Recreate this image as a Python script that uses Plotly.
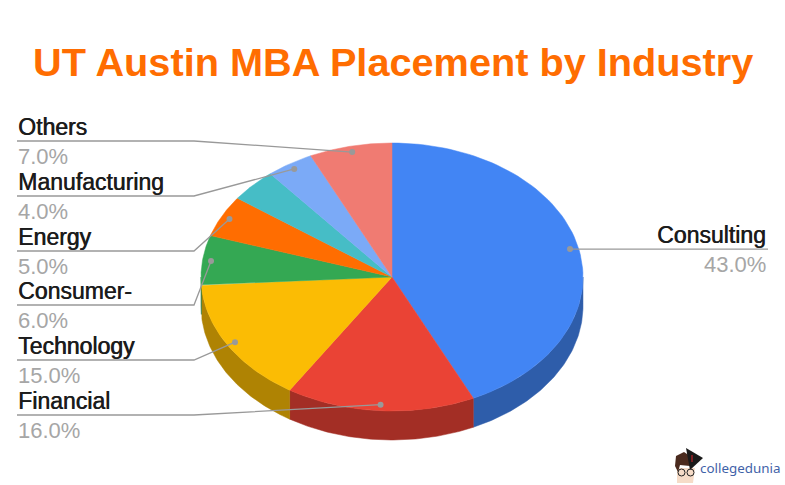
from __future__ import annotations

import numpy as np
import plotly.graph_objects as go

TITLE = "UT Austin MBA Placement by Industry"

# clockwise from 12 o'clock; the teal slice has no label in the source chart
categories = ["Consulting", "Financial", "Technology", "Consumer-", "Energy", "", "Manufacturing", "Others"]
shares = [43.0, 16.0, 15.0, 6.0, 5.0, 4.0, 4.0, 7.0]

top_colors = ["#4285f4", "#ea4335", "#fbbc04", "#34a853", "#ff6d01", "#46bdc6", "#7baaf7", "#f07b72"]
side_colors = ["#2e5daa", "#a32e25", "#af8303", "#24753a", "#b24c01", "#31848a", "#5676ac", "#a8564f"]

_CX, _CY = 392.0, 277.0
_RX, _RY = 191.0, 134.0
_DEPTH = 29.0
_DOT_K = 0.955

_LEFT_X = 17
_ELBOW_X = 194
_RIGHT_X = 768
# y of the horizontal part of each leader, same order as categories
leader_y = {"Consulting": 249, "Financial": 415, "Technology": 360, "Consumer-": 305,
            "Energy": 251, "Manufacturing": 196, "Others": 141}

_TEXT_FONT = "Liberation Sans"
_NAME_COLOR = "#1c1c1c"
_PCT_COLOR = "#a6a6a6"
_LEADER_COLOR = "#999999"


def _ellipse(theta, k=1.0, dy=0.0):
    return _CX + _RX * k * np.sin(theta), _CY - _RY * k * np.cos(theta) + dy


def _add_poly(fig, xs, ys, color, name):
    fig.add_trace(go.Scatter(
        x=xs, y=ys, mode="lines", fill="toself", fillcolor=color,
        line={"color": color, "width": 0.5}, name=name, hoverinfo="name", showlegend=False,
    ))


edges = np.cumsum([0.0] + shares) / sum(shares) * 2 * np.pi
fig = go.Figure()

# side wall: only the part of each slice on the lower half of the ellipse
for i, name in enumerate(categories):
    a0, a1 = max(edges[i], np.pi / 2), min(edges[i + 1], 3 * np.pi / 2)
    if a1 <= a0:
        continue
    t = np.linspace(a0, a1, 80)
    x, y = _ellipse(t)
    x2, y2 = _ellipse(t[::-1], dy=_DEPTH)
    _add_poly(fig, np.r_[x, x2, x[0]], np.r_[y, y2, y[0]], side_colors[i], name)

# top face
for i, name in enumerate(categories):
    t = np.linspace(edges[i], edges[i + 1], 80)
    x, y = _ellipse(t)
    _add_poly(fig, np.r_[_CX, x, _CX], np.r_[_CY, y, _CY], top_colors[i], name)

annotations = []
for i, name in enumerate(categories):
    if not name:
        continue
    dot_x, dot_y = _ellipse((edges[i] + edges[i + 1]) / 2, k=_DOT_K)
    ly = leader_y[name]
    right_side = dot_x > _CX + 100
    if right_side:
        lx, ly_x = [dot_x, _RIGHT_X], [dot_y, dot_y]
    else:
        lx, ly_x = [dot_x, _ELBOW_X, _LEFT_X], [dot_y, ly, ly]
    fig.add_trace(go.Scatter(x=lx, y=ly_x, mode="lines", line={"color": _LEADER_COLOR, "width": 1.3},
                             hoverinfo="skip", showlegend=False))
    fig.add_trace(go.Scatter(x=[dot_x], y=[dot_y], mode="markers", marker={"color": _LEADER_COLOR, "size": 6},
                             hoverinfo="skip", showlegend=False))
    tx, anchor = (_RIGHT_X, "right") if right_side else (_LEFT_X - 1, "left")
    # regular weight thickened a little, the source text sits between regular and bold
    annotations.append({"x": tx, "y": ly - 14, "text": name, "xanchor": anchor, "yanchor": "middle",
                        "showarrow": False,
                        "font": {"family": _TEXT_FONT, "size": 23, "color": _NAME_COLOR,
                                 "shadow": f"0.6px 0 0 {_NAME_COLOR}"}})
    annotations.append({"x": tx, "y": ly + 15, "text": f"{shares[i]:.1f}%",
                        "xanchor": anchor, "yanchor": "middle", "showarrow": False,
                        "font": {"family": _TEXT_FONT, "size": 22, "color": _PCT_COLOR}})

annotations.append({"x": 392.5, "y": 62, "text": f"<b>{TITLE}</b>", "xanchor": "center", "yanchor": "middle",
                    "showarrow": False, "font": {"family": _TEXT_FONT, "size": 39.7, "color": "#ff6d01"}})
# watermark
annotations.append({"x": 698, "y": 468, "text": "collegedunia", "xanchor": "left", "yanchor": "middle",
                    "showarrow": False, "font": {"family": "Noto Sans", "size": 13.4, "color": "#3f62a8"}})

logo_shapes = [
    {"type": "path", "path": "M677,483 L677,468 L695,468 L693,483 Z", "fillcolor": "#f6dcc8", "line": {"width": 0}},
    {"type": "path", "path": "M675,466 L676,456 L684,452 L690,456 L690,466 L680,465 L678,472 Z",
     "fillcolor": "#4a2a1e", "line": {"width": 0}},
    {"type": "path", "path": "M686,448 L703,458 L690,470 Z", "fillcolor": "#1a1a1a", "line": {"width": 0}},
    {"type": "line", "x0": 692, "y0": 455, "x1": 692, "y1": 462, "line": {"color": "#d8232a", "width": 1}},
    {"type": "circle", "x0": 678, "y0": 469, "x1": 685, "y1": 476, "line": {"color": "#222222", "width": 1}},
    {"type": "circle", "x0": 687, "y0": 469, "x1": 694, "y1": 476, "line": {"color": "#222222", "width": 1}},
]

fig.update_layout(
    width=785, height=485,
    margin={"l": 0, "r": 0, "t": 0, "b": 0},
    paper_bgcolor="white", plot_bgcolor="white",
    xaxis={"range": [0, 785], "visible": False, "fixedrange": True},
    yaxis={"range": [485, 0], "visible": False, "fixedrange": True},
    annotations=annotations, shapes=logo_shapes, showlegend=False,
)

fig.write_html("out.html", config={"displayModeBar": False}, post_script="document.body.style.margin='0';")
